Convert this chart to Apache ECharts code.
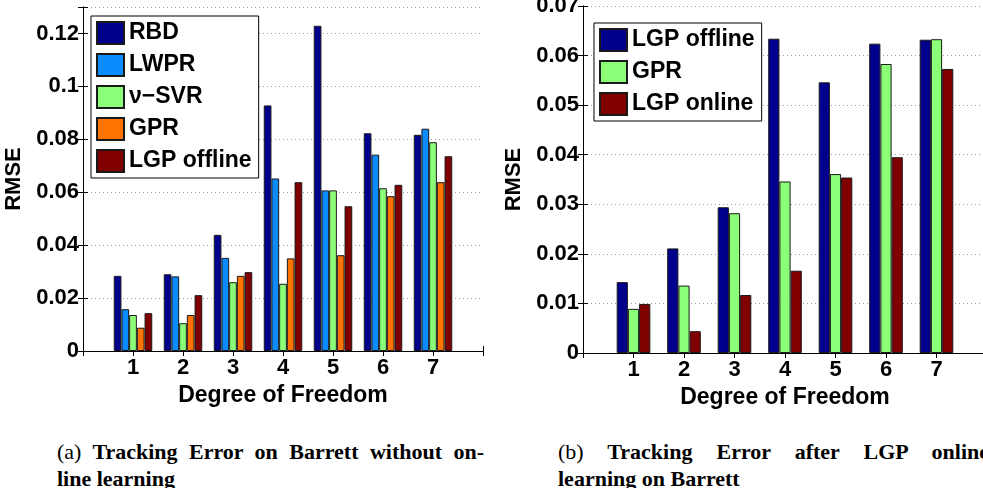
<!DOCTYPE html>
<html>
<head>
<meta charset="utf-8">
<script src="https://cdn.jsdelivr.net/npm/echarts@6/dist/echarts.min.js"></script>
<style>
  html, body { margin: 0; padding: 0; background: #fff; overflow: hidden; }
  #page { position: relative; width: 983px; height: 488px; overflow: hidden; }
  #chartA { position: absolute; left: 0; top: 0; width: 500px; height: 425px; }
  #chartB { position: absolute; left: 500px; top: 0; width: 483px; height: 425px; }
  .cap {
    position: absolute; white-space: nowrap;
    font-family: "Liberation Serif", "Times New Roman", serif;
    font-size: 22px; line-height: 27px; color: #000; font-weight: bold;
  }
  .cap.full { text-align: justify; text-align-last: justify; }
  .cap span { font-weight: normal; }
</style>
</head>
<body>
<div id="page">
  <div id="chartA"></div>
  <div id="chartB"></div>
  <div class="cap full" style="left:57px; top:438px; width:427px;"><span>(a)</span> Tracking Error on Barrett without on-</div>
  <div class="cap" style="left:57px; top:465px;">line learning</div>
  <div class="cap full" style="left:558px; top:438px; width:431px;"><span>(b)</span> Tracking Error after LGP online</div>
  <div class="cap" style="left:558px; top:465px;">learning on Barrett</div>
</div>

<script>
// degree of freedom (x positions)
const dof = [1, 2, 3, 4, 5, 6, 7]

// (a) without online learning
const rbd        = [0.0284, 0.0290, 0.0439, 0.0928, 0.1229, 0.0823, 0.0817]
const lwpr       = [0.0158, 0.0282, 0.0352, 0.0652, 0.0607, 0.0742, 0.0840]
const nuSvr      = [0.0136, 0.0105, 0.0260, 0.0254, 0.0607, 0.0615, 0.0789]
const gprA       = [0.0088, 0.0136, 0.0284, 0.0350, 0.0362, 0.0585, 0.0638]
const lgpOffA    = [0.0143, 0.0211, 0.0298, 0.0638, 0.0547, 0.0628, 0.0736]

// (b) after LGP online learning
const lgpOffB    = [0.0143, 0.0211, 0.0294, 0.0634, 0.0546, 0.0624, 0.0632]
const gprB       = [0.0089, 0.0136, 0.0282, 0.0346, 0.0361, 0.0583, 0.0633]
const lgpOnline  = [0.0099, 0.0044, 0.0117, 0.0166, 0.0354, 0.0395, 0.0573]

const yTicksA = [0, 0.02, 0.04, 0.06, 0.08, 0.1, 0.12]
const yTicksB = [0, 0.01, 0.02, 0.03, 0.04, 0.05, 0.06, 0.07]

const FONT = '"Liberation Sans", Arial, Helvetica, sans-serif'
const txt = { fontFamily: FONT, fontSize: 22, fontWeight: 'bold', color: '#000' }

function barSeries(name, values, color, width) {
  return {
    name: name,
    type: 'bar',
    xAxisIndex: 0,
    yAxisIndex: 0,
    barWidth: width,
    barGap: '0%',
    data: dof.map((d, i) => [d, values[i]]),
    itemStyle: { color: color, borderColor: '#1a1a1a', borderWidth: 1 }
  }
}

function makeOption(cfg) {
  return {
    animation: false,
    grid: {
      left: cfg.gridLeft, top: cfg.gridTop, width: cfg.gridWidth, height: cfg.gridHeight,
      containLabel: false, outerBoundsMode: 'none'
    },
    legend: {
      orient: 'vertical',
      left: cfg.legendLeft,
      top: cfg.legendTop,
      padding: [5, 7, 5, 5],
      backgroundColor: '#fff',
      borderColor: '#000',
      borderWidth: 1,
      itemWidth: 27,
      itemHeight: 22,
      itemGap: 8,
      icon: 'rect',
      selectedMode: false,
      textStyle: Object.assign({}, txt, { fontSize: 23 }),
      data: cfg.series.map(s => s.name)
    },
    xAxis: [
      {
        type: 'value', min: 0, max: 8, interval: 1, position: 'bottom',
        name: 'Degree of Freedom', nameLocation: 'middle', nameGap: 29,
        nameTextStyle: Object.assign({}, txt, { fontSize: 23 }),
        axisLine: { show: true, lineStyle: { color: '#000', width: 1 } },
        axisTick: { show: true, inside: true, length: 5, lineStyle: { color: '#000' } },
        axisLabel: Object.assign({}, txt, {
          margin: 6,
          formatter: v => (v >= 1 && v <= 7) ? String(v) : ''
        }),
        splitLine: { show: false }
      },
      {
        type: 'value', min: 0, max: 8, interval: 1, position: 'top',
        axisLine: { show: true, lineStyle: { color: '#000', width: 1 } },
        axisTick: { show: true, inside: true, length: 5, lineStyle: { color: '#000' } },
        axisLabel: { show: false },
        splitLine: { show: false }
      }
    ],
    yAxis: [
      {
        type: 'value', min: 0, max: cfg.yMax, interval: cfg.yStep, position: 'left',
        name: 'RMSE', nameLocation: 'middle', nameGap: 46,
        nameTextStyle: txt,
        axisLine: { show: true, lineStyle: { color: '#000', width: 1 } },
        axisTick: { show: true, inside: true, length: 5, lineStyle: { color: '#000' } },
        axisLabel: Object.assign({}, txt, {
          margin: 4,
          formatter: v => {
            const hit = cfg.yTicks.find(t => Math.abs(t - v) < 1e-9)
            return hit === undefined ? '' : String(hit)
          }
        }),
        splitLine: { show: true, lineStyle: { color: '#9a9a9a', type: [1, 3], width: 1 } }
      },
      {
        type: 'value', min: 0, max: cfg.yMax, interval: cfg.yStep, position: 'right',
        axisLine: { show: true, lineStyle: { color: '#000', width: 1 } },
        axisTick: { show: true, inside: true, length: 5, lineStyle: { color: '#000' } },
        axisLabel: { show: false },
        splitLine: { show: false }
      }
    ],
    series: cfg.series
  }
}

const chartA = echarts.init(document.getElementById('chartA'))
chartA.setOption(makeOption({
  gridLeft: 83, gridTop: 7, gridWidth: 400, gridHeight: 344,
  legendLeft: 91, legendTop: 16,
  yMax: 0.13, yStep: 0.02, yTicks: yTicksA,
  series: [
    barSeries('RBD', rbd, '#00008c', 7.7),
    barSeries('LWPR', lwpr, '#0a8cff', 7.7),
    barSeries('ν−SVR', nuSvr, '#8cff78', 7.7),
    barSeries('GPR', gprA, '#ff7300', 7.7),
    barSeries('LGP offline', lgpOffA, '#800000', 7.7)
  ]
}))

const chartB = echarts.init(document.getElementById('chartB'))
chartB.setOption(makeOption({
  gridLeft: 83, gridTop: 6, gridWidth: 404, gridHeight: 347,
  legendLeft: 94, legendTop: 23,
  yMax: 0.07, yStep: 0.01, yTicks: yTicksB,
  series: [
    barSeries('LGP offline', lgpOffB, '#00008c', 11.2),
    barSeries('GPR', gprB, '#8cff78', 11.2),
    barSeries('LGP online', lgpOnline, '#800000', 11.2)
  ]
}))
</script>
</body>
</html>
